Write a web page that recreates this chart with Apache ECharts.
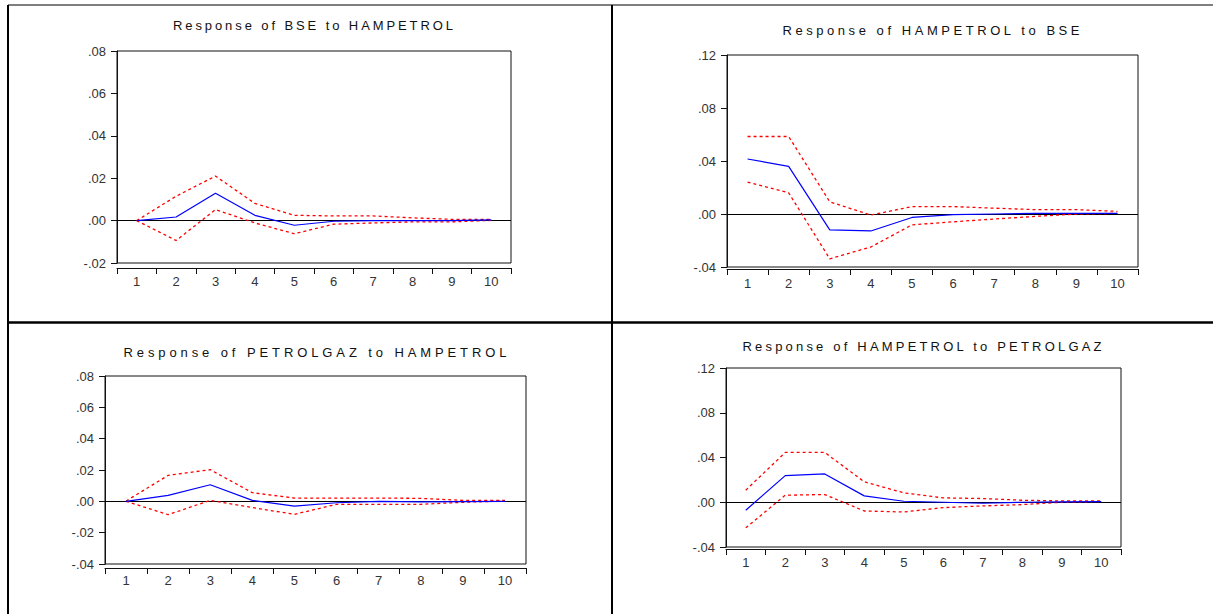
<!DOCTYPE html>
<html><head><meta charset="utf-8">
<script src="https://cdn.jsdelivr.net/npm/echarts@6/dist/echarts.min.js"></script>
<style>html,body{margin:0;padding:0;background:#fff}#c{width:1213px;height:614px}</style>
</head><body><div id="c"></div>
<script>
// ---- data ----
const periods = ['1','2','3','4','5','6','7','8','9','10'];
const titles = [
  'Response of BSE to HAMPETROL',
  'Response of HAMPETROL to BSE',
  'Response of PETROLGAZ to HAMPETROL',
  'Response of HAMPETROL to PETROLGAZ'
];
// Panel 1: BSE to HAMPETROL
const p1Resp  = [0.0000, 0.0017, 0.0129, 0.0025, -0.0022, -0.0003, 0.0000, 0.0000, 0.0000, 0.0003];
const p1Upper = [0.0000, 0.0115, 0.0210, 0.0081, 0.0025, 0.0022, 0.0022, 0.0013, 0.0006, 0.0006];
const p1Lower = [0.0000, -0.0094, 0.0052, -0.0011, -0.0062, -0.0017, -0.0011, -0.0006, -0.0006, 0.0001];
// Panel 2: HAMPETROL to BSE
const p2Resp  = [0.0415, 0.0359, -0.0120, -0.0128, -0.0026, -0.0005, 0.0000, 0.0005, 0.0005, 0.0005];
const p2Upper = [0.0585, 0.0585, 0.0092, -0.0008, 0.0056, 0.0056, 0.0044, 0.0033, 0.0033, 0.0020];
const p2Lower = [0.0240, 0.0160, -0.0338, -0.0249, -0.0082, -0.0059, -0.0038, -0.0018, 0.0000, 0.0005];
// Panel 3: PETROLGAZ to HAMPETROL
const p3Resp  = [0.0000, 0.0038, 0.0106, 0.0006, -0.0030, -0.0009, 0.0000, -0.0004, -0.0002, 0.0000];
const p3Upper = [0.0002, 0.0166, 0.0202, 0.0055, 0.0021, 0.0021, 0.0021, 0.0019, 0.0006, 0.0006];
const p3Lower = [0.0000, -0.0085, 0.0006, -0.0040, -0.0083, -0.0019, -0.0019, -0.0019, -0.0006, 0.0002];
// Panel 4: HAMPETROL to PETROLGAZ
const p4Resp  = [-0.0072, 0.0238, 0.0253, 0.0057, 0.0009, 0.0000, -0.0009, 0.0000, 0.0003, 0.0006];
const p4Upper = [0.0108, 0.0445, 0.0445, 0.0183, 0.0084, 0.0039, 0.0033, 0.0018, 0.0012, 0.0012];
const p4Lower = [-0.0229, 0.0063, 0.0069, -0.0078, -0.0087, -0.0048, -0.0033, -0.0021, 0.0000, 0.0006];
// axis ranges
const p1Y = {min: -0.02, max: 0.08, step: 0.02};
const p2Y = {min: -0.04, max: 0.12, step: 0.04};
const p3Y = {min: -0.04, max: 0.08, step: 0.02};
const p4Y = {min: -0.04, max: 0.12, step: 0.04};

// ---- layout ----
const panels = [
  {resp: p1Resp, up: p1Upper, lo: p1Lower, y: p1Y, grid: {left: 117, top: 51, width: 394, height: 212}, xOff: 5, xMargin: 7, t: {x: 313, y: 25, len: 280}},
  {resp: p2Resp, up: p2Upper, lo: p2Lower, y: p2Y, grid: {left: 727, top: 55, width: 411, height: 212}, xOff: 2, xMargin: 8, t: {x: 931, y: 30, len: 297}},
  {resp: p3Resp, up: p3Upper, lo: p3Lower, y: p3Y, grid: {left: 105, top: 376, width: 421, height: 188}, xOff: 4, xMargin: 6, t: {x: 315, y: 352, len: 383}},
  {resp: p4Resp, up: p4Upper, lo: p4Lower, y: p4Y, grid: {left: 726, top: 368, width: 395, height: 179}, xOff: 2, xMargin: 7, t: {x: 922, y: 346, len: 359}}
];

const FONT = "'Liberation Sans', Arial, sans-serif";
const fmt = v => {
  const s = Math.abs(v).toFixed(2).replace(/^0/, '');
  return (v < -1e-9 ? '-' : '') + s;
};

const grids = [], xAxes = [], yAxes = [], series = [], graphics = [];
panels.forEach((p, i) => {
  grids.push(Object.assign({show: true, borderColor: '#111', borderWidth: 1, backgroundColor: 'transparent', containLabel: false}, p.grid));
  xAxes.push({
    type: 'category', gridIndex: i, data: periods, boundaryGap: true, offset: p.xOff,
    axisLine: {show: true, onZero: false, lineStyle: {color: '#111', width: 1}},
    axisTick: {show: true, length: 6, lineStyle: {color: '#111'}},
    axisLabel: {color: '#333', fontFamily: FONT, fontSize: 13, margin: p.xMargin, interval: 0},
    splitLine: {show: false}
  });
  yAxes.push({
    type: 'value', gridIndex: i, min: p.y.min, max: p.y.max, interval: p.y.step,
    axisLine: {show: true, onZero: false, lineStyle: {color: '#111', width: 1}},
    axisTick: {show: true, length: 6, lineStyle: {color: '#111'}},
    axisLabel: {color: '#333', fontFamily: FONT, fontSize: 13, margin: 11, formatter: fmt},
    splitLine: {show: false}
  });
  const base = {type: 'line', xAxisIndex: i, yAxisIndex: i, symbol: 'none', silent: true, animation: false};
  series.push(Object.assign({}, base, {
    data: p.up, z: 3, lineStyle: {color: '#ff0000', width: 1.3, type: [3, 3]}
  }));
  series.push(Object.assign({}, base, {
    data: p.lo, z: 3, lineStyle: {color: '#ff0000', width: 1.3, type: [3, 3]}
  }));
  series.push(Object.assign({}, base, {
    data: p.resp, z: 4, lineStyle: {color: '#0000ff', width: 1.2},
    markLine: {silent: true, symbol: 'none', label: {show: false}, animation: false,
      lineStyle: {color: '#000', width: 1, type: 'solid'}, data: [{yAxis: 0}], z: 2}
  }));
  graphics.push({
    type: 'text', x: p.t.x, y: p.t.y, silent: true,
    style: {text: titles[i], fill: '#111', font: '13px ' + FONT, textAlign: 'center', textVerticalAlign: 'middle'}
  });
});

// table borders
const line = (x1, y1, x2, y2, w) => ({type: 'line', silent: true, shape: {x1, y1, x2, y2}, style: {stroke: '#000', lineWidth: w}});
graphics.push(line(8, 5, 1213, 5, 1.2));
graphics.push(line(8, 5, 8, 614, 2));
graphics.push(line(612, 5, 612, 614, 2));
graphics.push(line(8, 322.5, 1213, 322.5, 2.5));

const chart = echarts.init(document.getElementById('c'), null, {renderer: 'svg', width: 1213, height: 614});
chart.setOption({
  animation: false,
  backgroundColor: '#fff',
  grid: grids, xAxis: xAxes, yAxis: yAxes, series: series, graphic: graphics
});

// stretch title spacing like the EViews export
function spaceTitles() {
  document.querySelectorAll('#c svg text').forEach(t => {
    const idx = titles.indexOf(t.textContent.trim());
    if (idx >= 0) {
      t.setAttribute('textLength', panels[idx].t.len);
      t.setAttribute('lengthAdjust', 'spacing');
    }
  });
}
spaceTitles();
chart.on('finished', spaceTitles);
</script>
</body></html>
